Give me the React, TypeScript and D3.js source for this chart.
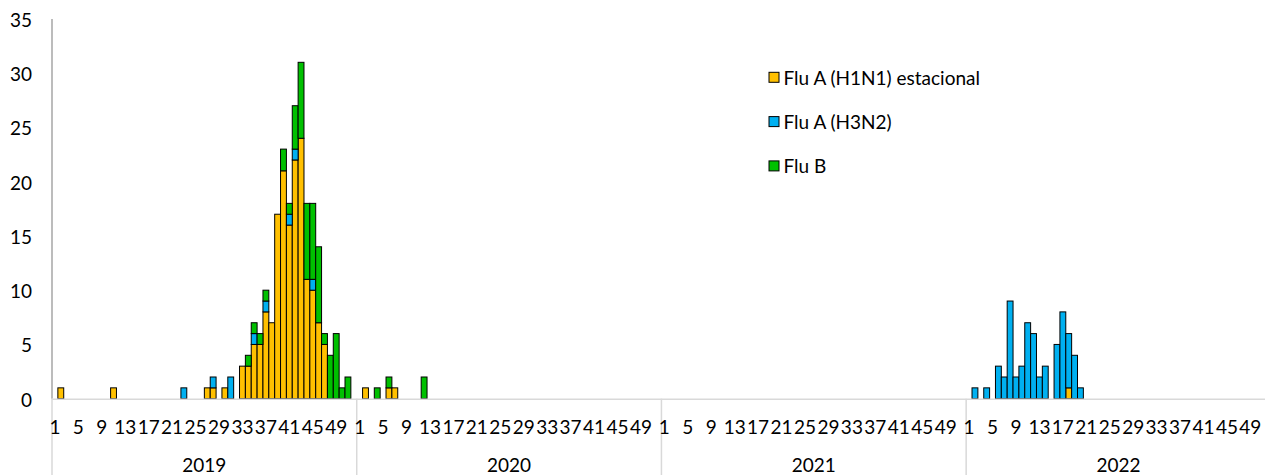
import React from "react";
import * as d3 from "d3";

// ---- data ----
const years = [2019, 2020, 2021, 2022];
const weeksPerYear = 52;
const weekTickLabels = [1, 5, 9, 13, 17, 21, 25, 29, 33, 37, 41, 45, 49];
const yTicks = [0, 5, 10, 15, 20, 25, 30, 35];
const seriesNames = ["Flu A (H1N1) estacional", "Flu A (H3N2)", "Flu B"];
const seriesColors = ["#FFC000", "#00B0F0", "#00C000"];

// [year, week, count]
const fluH1N1: [number, number, number][] = [
  [2019, 2, 1], [2019, 11, 1], [2019, 27, 1], [2019, 28, 1], [2019, 30, 1],
  [2019, 33, 3], [2019, 34, 3], [2019, 35, 5], [2019, 36, 5], [2019, 37, 8],
  [2019, 38, 7], [2019, 39, 17], [2019, 40, 21], [2019, 41, 16], [2019, 42, 22],
  [2019, 43, 24], [2019, 44, 11], [2019, 45, 10], [2019, 46, 7], [2019, 47, 5],
  [2020, 2, 1], [2020, 6, 1], [2020, 7, 1],
  [2022, 18, 1],
];
const fluH3N2: [number, number, number][] = [
  [2019, 23, 1], [2019, 28, 1], [2019, 31, 2], [2019, 35, 1], [2019, 37, 1],
  [2019, 41, 1], [2019, 42, 1], [2019, 45, 1],
  [2022, 2, 1], [2022, 4, 1], [2022, 6, 3], [2022, 7, 2], [2022, 8, 9],
  [2022, 9, 2], [2022, 10, 3], [2022, 11, 7], [2022, 12, 6], [2022, 13, 2],
  [2022, 14, 3], [2022, 16, 5], [2022, 17, 8], [2022, 18, 5], [2022, 19, 4],
  [2022, 20, 1],
];
const fluB: [number, number, number][] = [
  [2019, 34, 1], [2019, 35, 1], [2019, 36, 1], [2019, 37, 1], [2019, 40, 2],
  [2019, 41, 1], [2019, 42, 4], [2019, 43, 7], [2019, 44, 7], [2019, 45, 7],
  [2019, 46, 7], [2019, 47, 1], [2019, 48, 4], [2019, 49, 6], [2019, 50, 1],
  [2019, 51, 2],
  [2020, 4, 1], [2020, 6, 1], [2020, 12, 2],
];
const seriesData = [fluH1N1, fluH3N2, fluB];

// ---- build table ----
type Row = { key: string; year: number; week: number; [k: string]: any };
const rows: Row[] = [];
years.forEach((yr) => {
  for (let w = 1; w <= weeksPerYear; w++) {
    const r: Row = { key: `${yr}-${w}`, year: yr, week: w };
    seriesNames.forEach((s) => (r[s] = 0));
    rows.push(r);
  }
});
const rowByKey = new Map(rows.map((r) => [r.key, r]));
seriesData.forEach((arr, i) => {
  arr.forEach(([yr, w, v]) => {
    const r = rowByKey.get(`${yr}-${w}`);
    if (r) r[seriesNames[i]] = v;
  });
});

const W = 1265;
const H = 475;
const left = 52;
const bandW = 5.86;
const right = left + rows.length * bandW;
const y0 = 398.7;
const yTop = 18.9;
const FONT = "Lato, 'Open Sans', sans-serif";

export default function App() {
  const x = d3.scaleBand<string>().domain(rows.map((r) => r.key)).range([left, right]).padding(0);
  const y = d3.scaleLinear().domain([0, 35]).range([y0, yTop]);
  const stack = d3.stack<Row>().keys(seriesNames);
  const layers = stack(rows);

  const yearX = (yr: number) => x(`${yr}-1`)!;

  return (
    <svg
      width={W}
      height={H}
      style={{ position: "absolute", left: 0, top: 0, background: "#fff" }}
      fontFamily={FONT}
    >
      {/* bars */}
      {layers.map((layer, i) => (
        <g key={layer.key} fill={seriesColors[i]} stroke="#000" strokeWidth={1}>
          {layer.map((d) =>
            d[1] - d[0] > 0 ? (
              <rect
                key={d.data.key}
                x={x(d.data.key)!}
                width={x.bandwidth()}
                y={y(d[1])}
                height={y(d[0]) - y(d[1])}
              />
            ) : null
          )}
        </g>
      ))}

      {/* axes */}
      <line x1={left} x2={left} y1={yTop} y2={y0} stroke="#a6a6a6" strokeWidth={1.5} />
      <line x1={left} x2={right} y1={y0 + 0.5} y2={y0 + 0.5} stroke="#d9d9d9" strokeWidth={1.5} />
      {years.map((yr) => (
        <line
          key={yr}
          x1={yearX(yr)}
          x2={yearX(yr)}
          y1={y0}
          y2={H}
          stroke="#d9d9d9"
          strokeWidth={1.5}
        />
      ))}

      {/* y tick labels */}
      {yTicks.map((t) => (
        <text key={t} x={32} y={y(t) + 0.5} textAnchor="end" dominantBaseline="central" fontSize={19} fill="#000">
          {t}
        </text>
      ))}

      {/* week labels */}
      {years.map((yr) =>
        weekTickLabels.map((w) => (
          <text
            key={`${yr}-${w}`}
            x={x(`${yr}-${w}`)! + x.bandwidth() / 2}
            y={426}
            textAnchor="middle"
            dominantBaseline="central"
            fontSize={19}
            fill="#000"
          >
            {w}
          </text>
        ))
      )}

      {/* year labels */}
      {years.map((yr) => (
        <text
          key={yr}
          x={yearX(yr) + (weeksPerYear * bandW) / 2}
          y={472}
          textAnchor="middle"
          fontSize={19}
          fill="#000"
        >
          {yr}
        </text>
      ))}

      {/* legend */}
      {seriesNames.map((s, i) => (
        <g key={s} transform={`translate(769, ${77.3 + i * 44.3})`}>
          <rect x={0} y={-5} width={10} height={10} fill={seriesColors[i]} stroke="#000" strokeWidth={1} />
          <text x={14.5} y={0} dominantBaseline="central" fontSize={19} fill="#000">
            {s}
          </text>
        </g>
      ))}
    </svg>
  );
}
